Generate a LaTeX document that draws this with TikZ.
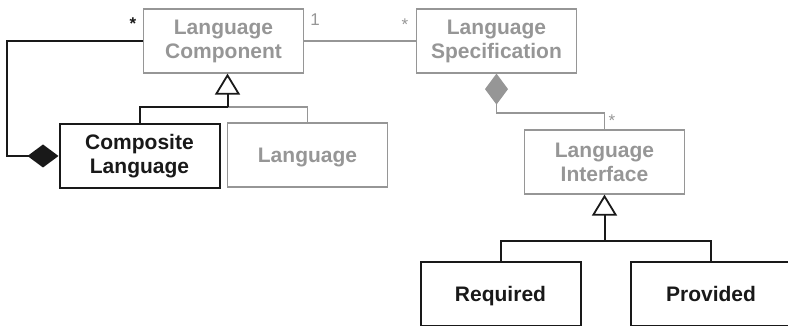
\documentclass[tikz,border=0pt]{standalone}
\usepackage{fontspec}
\setmainfont{Liberation Sans}
\usetikzlibrary{arrows.meta}
\definecolor{umlgray}{RGB}{150,150,150}
\definecolor{umlblack}{RGB}{25,25,25}
\begin{document}
\begin{tikzpicture}
    [
        x = 1pt, y = -1pt,
        classbox/.style = {draw, minimum width = 160pt, minimum height = 64pt, inner sep = 0pt, align = center, font = \bfseries\fontsize{21}{24}\selectfont},
        abstract/.style = {classbox, umlgray, line width = 1.2pt},
        concrete/.style = {classbox, umlblack, line width = 2pt},
        oneline/.style = {text height = 15pt, text depth = 0pt},
        mult/.style = {inner sep = 0pt, font = \fontsize{17}{17}\selectfont},
        inherit/.style = {-{Triangle[open, length = 21pt, width = 25pt, line width = 1.8pt]}},
        compose/.style = {{Diamond[length = 31pt, width = 23pt, fill = #1]}-}
    ]

        \useasboundingbox (0,0) rectangle (788,326);

        \node[abstract] (LangComponent) at (223.5,41) {Language\\Component};
        \node[concrete] (CompositeLang) at (139.5,156) {Composite\\Language};
        \node[abstract, oneline] (Lang) at (307.5,155) {Language};
        \node[abstract] (LangSpec) at (496.5,41) {Language\\Specification};
        \node[abstract] (LangInterface) at (604.5,162) {Language\\Interface};
        \node[concrete, oneline] (Required) at (500.5,293.5) {Required};
        \node[concrete, oneline] (Provided) at (711,293.5) {Provided};

        \coordinate (CompBend) at (7,156);
        \coordinate (CompJoin) at (227.5,107);
        \coordinate (SpecBend) at (496.5,113);
        \coordinate (IfaceJoin) at (604.5,241);

        \draw[umlblack, line width = 2pt] (CompositeLang.north) |- (CompJoin);
        \draw[umlgray, line width = 1.2pt] (CompJoin) -| (Lang.north);
        \draw[umlblack, line width = 2pt, inherit] (CompJoin) -- (CompJoin |- LangComponent.south);
        \draw[umlblack, line width = 2pt, compose = umlblack] (CompositeLang.west) -- (CompBend) |- (LangComponent.west);
        \draw[umlgray, line width = 1.2pt] (LangComponent.east) -- (LangSpec.west);
        \draw[umlgray, line width = 1.2pt, compose = umlgray] (LangSpec.south) -- (SpecBend) -| (LangInterface.north);
        \draw[umlblack, line width = 2pt] (Required.north) |- (IfaceJoin) -| (Provided.north);
        \draw[umlblack, line width = 2pt, inherit] (IfaceJoin) -- (LangInterface.south);

        \node[mult, umlblack, font = \bfseries\fontsize{17}{17}\selectfont] (StarComponent) at (133,24) {*};
        \node[mult, umlgray] (OneComponent) at (315,20) {1};
        \node[mult, umlgray] (StarSpec) at (405,25) {*};
        \node[mult, umlgray] (StarInterface) at (612,121) {*};
    \end{tikzpicture}
\end{document}
